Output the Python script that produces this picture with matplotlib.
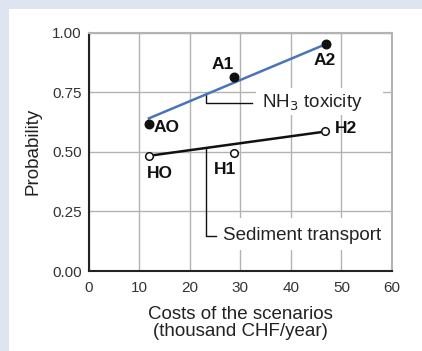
import matplotlib
matplotlib.use("Agg")
import matplotlib.pyplot as plt
from matplotlib.patches import Rectangle

plt.rcParams['font.family'] = ['Liberation Sans', 'DejaVu Sans']

# --- data ---
labels_a = ["AO", "A1", "A2"]
costs_a = [11.9, 28.8, 46.9]
prob_a = [0.617, 0.815, 0.951]

labels_h = ["HO", "H1", "H2"]
costs_h = [11.9, 28.8, 46.8]
prob_h = [0.483, 0.494, 0.585]

# fitted lines
trend_x = [11.9, 46.9]
trend_a = [0.64, 0.951]
trend_h = [0.483, 0.585]

x_ticks = [0, 10, 20, 30, 40, 50, 60]
y_ticks = [0.0, 0.25, 0.5, 0.75, 1.0]

BLUE = "#4a74b8"
BG = "#dfe5f0"
GRID = "#b3b3b3"

fig = plt.figure(figsize=(4.22, 3.51), dpi=100, facecolor=BG)
fig.patches.append(Rectangle((0.0213, 0), 1, 0.973, transform=fig.transFigure,
                             facecolor="white", edgecolor="none", zorder=-10))

ax = fig.add_axes([0.2102, 0.2279, 0.7187, 0.6795])
ax.set_zorder(5)
ax.set_facecolor("white")
ax.set_xlim(0, 60)
ax.set_ylim(0, 1)
ax.set_xticks(x_ticks)
ax.set_yticks(y_ticks)
ax.set_yticklabels([f"{v:.2f}" for v in y_ticks])
ax.tick_params(length=0, labelsize=11, labelcolor="#333333")
ax.tick_params(axis="y", pad=5)
ax.tick_params(axis="x", pad=7)
ax.grid(True, color=GRID, lw=1, zorder=0)
ax.set_axisbelow(True)
for s in ["left", "bottom"]:
    ax.spines[s].set_color("#222222")
    ax.spines[s].set_linewidth(1.5)
for s in ["top", "right"]:
    ax.spines[s].set_color(GRID)
    ax.spines[s].set_linewidth(1.5)

# white boxes behind callout texts
ax.add_patch(Rectangle((33.1, 0.655), 25.1, 0.113, facecolor="white", edgecolor="none", zorder=1))
ax.add_patch(Rectangle((25.6, 0.088), 33.6, 0.134, facecolor="white", edgecolor="none", zorder=1))

ax.plot(trend_x, trend_a, color=BLUE, lw=1.8, zorder=3)
ax.plot(trend_x, trend_h, color="#111111", lw=1.8, zorder=3)
ax.scatter(costs_a, prob_a, s=38, color="#111111", zorder=4)
ax.scatter(costs_h, prob_h, s=30, facecolor="white", edgecolor="#111111", lw=1.1, zorder=4)

# point labels (offsets in points)
offs_a = [((3.6, -2.5), "left"), ((-8, 9), "center"), ((-0.7, -11.5), "center")]
offs_h = [((8, -13), "center"), ((-7, -11.5), "center"), ((7, 2), "left")]
for lab, x, y, (off, ha) in zip(labels_a + labels_h, costs_a + costs_h, prob_a + prob_h, offs_a + offs_h):
    ax.annotate(lab, (x, y), xytext=off, textcoords="offset points", ha=ha, va="center",
                fontsize=12.5, fontweight="bold", color="#111111", zorder=5)

# callouts
ax.plot([23.2, 23.2, 32.4], [0.739, 0.706, 0.706], color="#111111", lw=1, zorder=2)
ax.text(34.2, 0.706, "NH$_3$ toxicity", fontsize=13.5, va="center", ha="left", color="#222222", zorder=5)
ax.plot([23.2, 23.2, 25.2], [0.514, 0.148, 0.148], color="#111111", lw=1, zorder=2)
ax.text(26.6, 0.148, "Sediment transport", fontsize=13.5, va="center", ha="left", color="#222222", zorder=5)

ax.set_xlabel("Costs of the scenarios\n(thousand CHF/year)", fontsize=13.5, color="#222222",
              labelpad=8, linespacing=1.0)
ax.set_ylabel("Probability", fontsize=13.5, color="#222222", labelpad=8)

fig.savefig("out.png", dpi=100, facecolor=BG)
